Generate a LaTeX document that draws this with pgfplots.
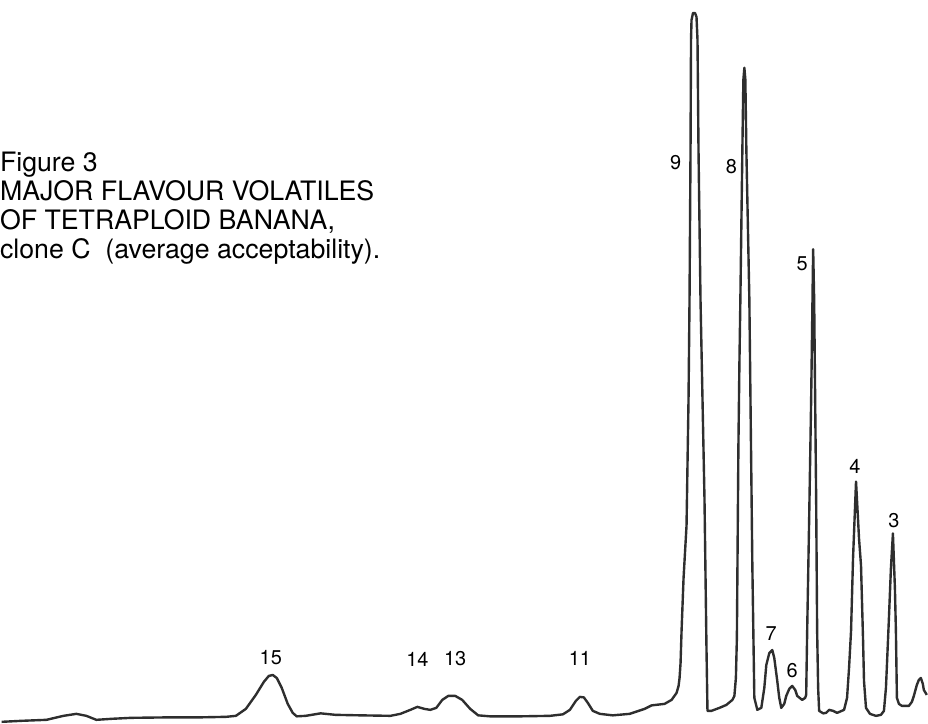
\documentclass[border=0pt]{standalone}
\usepackage{pgfplots}
\pgfplotsset{compat=1.18}
\usepackage{fontspec}
\setmainfont{TeX Gyre Heros}
\definecolor{ink}{HTML}{2E2E2E}
\begin{document}
\begin{tikzpicture}
\begin{axis}[
  scale only axis, width=464pt, height=363pt,
  xmin=0, xmax=928, ymin=0, ymax=726, y dir=reverse,
  axis lines=none, ticks=none, clip=false,
  every node/.style={text=ink, font=\fontsize{8.5}{10}\selectfont},
]
\path (axis cs:0,0) rectangle (axis cs:928,726);
\addplot[ink, line width=1.2pt, line join=round, sharp plot] coordinates {
(0,724) (20,723) (45,722) (62,718) (75,716) (85,718) (95,722) (110,721) (130,720)
(170,719.5) (200,719.5) (225,719) (235,718) (245,711) (255,697) (263,684) (268,678)
(272,677) (276,680) (281,690) (287,706) (292,715) (296,718.5) (305,718) (320,715.5)
(335,717) (360,717.5) (390,718) (400,716) (410,712) (417,709) (424,711) (430,712)
(436,710) (442,702) (448,698) (455,698) (462,702) (470,711) (478,717.5) (490,718.5)
(520,718.5) (550,718) (563,716.5) (570,712) (576,703) (580,699) (584,699.5) (588,705)
(593,713) (600,716) (613,717.5) (630,716) (645,711) (652,707.5) (665,706) (672,702)
(677,695) (679,688) (680,680) (681,665) (682,633) (684,580) (687,527) (689,400)
(690,300) (691,150) (691.5,40) (692,20) (693.5,13) (695.5,13) (697,17) (698,40)
(699,150) (701,300) (705,500) (707,650) (708,713) (712,713) (720,710) (727,707)
(733,702) (735,698) (736.5,680) (737.5,640) (739,450) (740,367) (741,300) (743,150)
(744,80) (745,68) (746,80) (747,150) (750,300) (753,567) (755,700) (758,712)
(762,710) (765,690) (767,667) (770,655) (773,652) (775,660) (778,683) (780,700)
(782,710) (785,706) (787,698) (790,691) (793,688) (796,692) (798,698) (803,702)
(806,700) (807,697) (808,633) (810,520) (812,400) (814,250) (815,300) (817,500)
(818,633) (819,690) (820,713) (824,715.5) (827,715) (830,712) (834,713) (838,715)
(845,712) (848,700) (850,670) (852,633) (854,560) (857,483) (860,540) (862,567)
(864,640) (865,683) (867,710) (871,716) (877,718) (882,717) (885,713) (887,690)
(888,667) (890,620) (892,570) (894,535) (896,590) (897,633) (898,700) (900,706)
(903,708) (910,708) (913,704) (915,698) (918,687) (920,682) (922,680) (924,686)
(925,692) (928,697)
};
\node at (axis cs:270,660) {15};
\node at (axis cs:417,661) {14};
\node at (axis cs:455,661) {13};
\node at (axis cs:580,660) {11};
\node at (axis cs:676,163) {9};
\node at (axis cs:732,167) {8};
\node at (axis cs:803,265) {5};
\node at (axis cs:772,635) {7};
\node at (axis cs:793,673) {6};
\node at (axis cs:856,468) {4};
\node at (axis cs:895,522) {3};
\node[anchor=base west, inner sep=0pt, font=\fontsize{13.4}{15}\selectfont] at (axis cs:-2,172) {Figure 3};
\node[anchor=base west, inner sep=0pt, font=\fontsize{13.4}{15}\selectfont] at (axis cs:-2,201) {MAJOR FLAVOUR VOLATILES};
\node[anchor=base west, inner sep=0pt, font=\fontsize{13.4}{15}\selectfont] at (axis cs:-2,230) {OF TETRAPLOID BANANA,};
\node[anchor=base west, inner sep=0pt, font=\fontsize{13.4}{15}\selectfont] at (axis cs:-2,259) {clone C\ \ (average acceptability).};
\end{axis}
\end{tikzpicture}
\end{document}
